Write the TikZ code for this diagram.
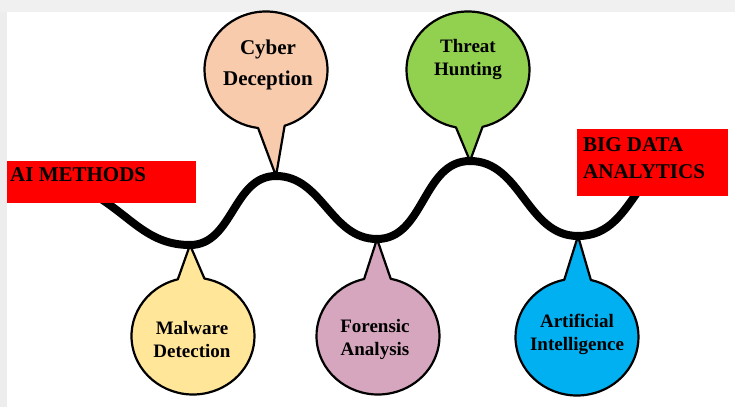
\documentclass[tikz,border=0pt]{standalone}
\usepackage{fontspec}
\setmainfont{Liberation Serif}
\usetikzlibrary{shapes.callouts}
\definecolor{bubpeach}{HTML}{F8CBAD}
\definecolor{bubgreen}{HTML}{92D050}
\definecolor{bubyellow}{HTML}{FFE699}
\definecolor{bubpink}{HTML}{D5A6BD}
\definecolor{bubblue}{HTML}{00B0F0}

\begin{document}
\begin{tikzpicture}[x=1pt, y=1pt,
  bubble/.style={ellipse callout, draw=black, line width=2.2pt, line join=round,
    minimum width=123pt, minimum height=117pt, inner sep=0pt, callout pointer arc=25},
  bubtext/.style={align=center, inner sep=0pt, font=\fontsize{19}{23}\selectfont\bfseries},
  redbox/.style={fill=red, inner sep=0pt},
  boxtext/.style={align=left, inner sep=0pt, font=\fontsize{21}{27}\selectfont\bfseries}]
  \useasboundingbox (0,0) rectangle (735,407);
  % grey frame of the screenshot
  \fill[black!6] (0,395) rectangle (735,407);
  \fill[black!7] (0,0) rectangle (7,395);

  % turning points of the wave
  \coordinate (w0) at (98,210);
  \coordinate (m1) at (190,162);
  \coordinate (p1) at (276,231);
  \coordinate (m2) at (377,168);
  \coordinate (p2) at (470,246);
  \coordinate (m3) at (578,171);
  \coordinate (w1) at (641,220);

  % --- bubbles above the wave ---
  \node[bubble, fill=bubpeach, callout absolute pointer={(p1)}] (cyber) at (266,337) {};
  \node[bubtext, font=\fontsize{21}{31}\selectfont\bfseries] (cyber-t) at (268,342) {Cyber\\Deception};
  \node[bubble, fill=bubgreen, callout absolute pointer={(p2)}] (threat) at (468,337) {};
  \node[bubtext] (threat-t) at (468,347) {Threat\\Hunting};

  % --- bubbles below the wave ---
  \node[bubble, fill=bubyellow, callout absolute pointer={(m1)}] (malware) at (193,71) {};
  \node[bubtext] (malware-t) at (192,68) {Malware\\Detection};
  \node[bubble, fill=bubpink, callout absolute pointer={(m2)}] (forensic) at (378,71) {};
  \node[bubtext] (forensic-t) at (375,68) {Forensic\\Analysis};
  \node[bubble, fill=bubblue, callout absolute pointer={(m3)}] (ai-int) at (577,70) {};
  \node[bubtext] (ai-int-t) at (577,73) {Artificial\\Intelligence};

  % the wave
  \draw[line width=8pt, line cap=round] (w0) to[out=-32,in=180] (m1)
    to[out=0,in=180] (p1) to[out=0,in=180] (m2) to[out=0,in=180] (p2)
    to[out=0,in=180] (m3) to[out=0,in=-125] (w1);

  % red labels at both ends
  \node[redbox, minimum width=189pt, minimum height=42pt] (aim) at (101.5,225) {};
  \node[boxtext, anchor=west] (aim-t) at (10,232) {AI METHODS};
  \node[redbox, minimum width=151pt, minimum height=67pt] (bda) at (652.5,244.5) {};
  \node[boxtext, anchor=west] (bda-t) at (583,248.5) {BIG DATA\\ANALYTICS};
\end{tikzpicture}
\end{document}
